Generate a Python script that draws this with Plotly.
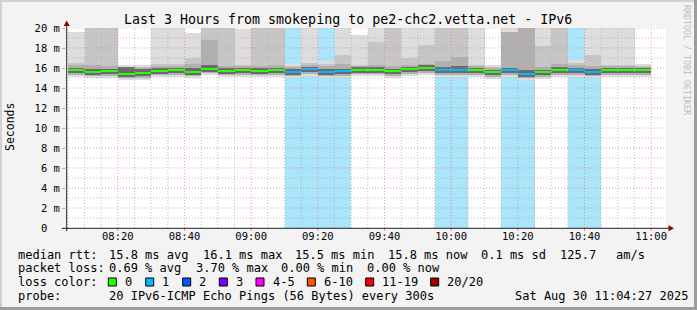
import pandas as pd
import plotly.graph_objects as go

# ---------------- data ----------------
col_start = "2025-08-30 08:05:00"          # first 5-minute column
step_min = 5
n_cols = 35
loss = [0,0,0,0,0,0,0,0,0,0,0,0,0,1,1,1,1,0,0,0,0,0,1,1,0,0,1,1,0,0,1,1,0,0,0]
median = [15.80,15.65,15.70,15.40,15.50,15.72,15.80,15.65,15.95,15.72,15.78,15.72,15.80,15.62,15.88,15.62,15.68,15.85,15.82,15.68,15.87,15.98,15.78,15.78,15.78,15.60,15.78,15.45,15.57,15.80,15.78,15.65,15.80,15.80,15.80]
smoke_max = [19.6,20.5,20.5,16.3,16.3,20.5,20.5,19.5,20.5,20.5,19.9,20.5,20.5,16.4,20.5,16.7,20.5,19.3,20.5,20.5,20.5,20.5,20.5,20.5,20.5,16.3,20.5,20.5,20.5,20.5,16.8,20.5,20.5,20.5,16.4]
smoke_hi2 = [16.5,20.5,20.5,16.1,16.1,16.4,16.4,17.0,20.5,20.5,16.3,20.5,20.5,16.2,16.5,16.4,17.3,16.3,18.6,20.5,17.0,18.3,20.5,20.5,16.3,16.1,19.6,20.5,18.2,20.5,16.5,17.3,16.3,16.3,16.2]
smoke_hi3 = [16.3,16.3,16.2,16.1,16.0,16.2,16.2,16.4,18.8,16.2,16.2,16.2,16.3,16.1,16.3,16.2,16.4,16.2,16.3,16.2,16.3,16.4,16.7,17.1,16.2,16.0,19.6,20.5,16.1,16.4,16.3,16.2,16.2,16.2,16.1]
core_hi = [16.05,15.95,15.95,16.10,15.90,16.00,16.05,16.00,16.30,16.00,16.05,16.00,16.05,15.90,16.15,15.90,15.95,16.10,16.10,15.95,16.15,16.30,16.10,16.20,16.05,15.85,16.05,15.80,15.85,16.10,16.05,15.95,16.05,16.05,16.05]
core_lo = [15.50,15.35,15.40,15.15,15.20,15.42,15.50,15.35,15.65,15.42,15.48,15.42,15.50,15.32,15.58,15.32,15.38,15.55,15.52,15.38,15.57,15.68,15.48,15.48,15.48,15.30,15.48,15.15,15.27,15.50,15.48,15.35,15.50,15.50,15.50]
smoke_lo2 = [15.35,15.20,15.25,15.00,15.05,15.27,15.35,15.20,15.50,15.27,15.33,15.27,15.35,15.17,15.43,15.17,15.23,15.40,15.37,15.23,15.42,15.53,15.33,15.33,15.33,15.15,15.33,15.00,15.12,15.35,15.33,15.20,15.35,15.35,15.35]
smoke_min = [15.15,15.00,15.05,14.80,14.85,15.07,15.15,15.00,15.30,15.07,15.13,15.07,15.15,14.97,15.23,14.97,15.03,15.20,15.17,15.03,15.22,15.33,15.13,15.13,15.13,14.95,15.13,14.80,14.92,15.15,15.13,15.00,15.15,15.15,15.15]

loss_labels = ["0", "1", "2", "3", "4-5", "6-10", "11-19", "20/20"]
loss_colors = ["#26ff00", "#00b8ff", "#0059ff", "#7e00ff", "#ff00ff", "#ff5500", "#ff0000", "#a10000"]
loss_bg = {1: "#aae5fb"}

y_ticks = [0, 2, 4, 6, 8, 10, 12, 14, 16, 18, 20]
x_start, x_end = "2025-08-30 08:04:27", "2025-08-30 11:04:27"

title = "Last 3 Hours from smokeping to pe2-chc2.vetta.net - IPv6"
row1 = [("median rtt:", 16), ("15.8 ms avg", 107), ("16.1 ms max", 201), ("15.5 ms min", 293),
        ("15.8 ms now", 386), ("0.1 ms sd", 479), ("125.7", 558), ("am/s", 614)]
row2 = [("packet loss:", 16), ("0.69 % avg", 107), ("3.70 % max", 194), ("0.00 % min", 279),
        ("0.00 % now", 365)]
row4 = [("probe:", 16), ("20 IPv6-ICMP Echo Pings (56 Bytes) every 300s", 107),
        ("Sat Aug 30 11:04:27 2025", 513)]

# ---------------- layout helpers ----------------
W, H = 697, 310
L, R, T, B = 66, 31, 28, 82
PW, PH = W - L - R, H - T - B
def px(x): return (x - L) / PW
def py(y): return (H - B - y) / PH

MONO = "DejaVu Sans Mono"
starts = pd.date_range(col_start, periods=n_cols, freq=f"{step_min}min")
centers = starts + pd.Timedelta(minutes=step_min / 2)
width_ms = step_min * 60 * 1000

fig = go.Figure()

def band(lo, hi, color):
    fig.add_trace(go.Bar(x=centers, base=lo, y=[h - l for l, h in zip(lo, hi)],
                         width=width_ms, marker=dict(color=color, line=dict(width=0)),
                         hoverinfo="skip", showlegend=False))

# loss background
bg_h = [20 if l > 0 else 0 for l in loss]
fig.add_trace(go.Bar(x=centers, base=[0]*n_cols, y=bg_h, width=width_ms,
                     marker=dict(color=[loss_bg.get(l, "white") for l in loss], line=dict(width=0)),
                     hoverinfo="skip", showlegend=False))
band(smoke_min, smoke_max, "#dddddd")
band(smoke_lo2, smoke_hi2, "#c6c6c6")
band(smoke_lo2, smoke_hi3, "#b0b0b0")
band(core_lo, core_hi, "#6a6a6a")
# median line coloured by loss
fig.add_trace(go.Bar(x=centers, base=[m - 0.1 for m in median], y=[0.2]*n_cols, width=width_ms,
                     marker=dict(color=[loss_colors[l] for l in loss], line=dict(width=0)),
                     hoverinfo="skip", showlegend=False))

shapes = []
# grid (drawn above data like rrdtool)
t = pd.Timestamp("2025-08-30 08:05")
while t <= pd.Timestamp("2025-08-30 11:00"):
    major = (t.minute % 20 == 0)
    shapes.append(dict(type="line", xref="x", yref="y", x0=t, x1=t, y0=0, y1=20, layer="above",
                       line=dict(color="rgba(235,120,120,0.75)" if major else "rgba(175,175,175,0.8)",
                                 width=1, dash="1px,2px")))
    if major:
        shapes.append(dict(type="line", xref="x", yref="paper", x0=t, x1=t, y0=py(228.3), y1=py(231),
                           layer="above", line=dict(color="rgba(235,120,120,0.9)", width=1)))
    t += pd.Timedelta(minutes=5)
for v in range(1, 21):
    major = (v % 2 == 0)
    shapes.append(dict(type="line", xref="x", yref="y", x0=x_start, x1=x_end, y0=v, y1=v, layer="above",
                       line=dict(color="rgba(235,120,120,0.75)" if major else "rgba(175,175,175,0.8)",
                                 width=1, dash="1px,2px")))
# axes lines and arrows
AX = "#222222"
ARR = "#8b0000"
shapes.append(dict(type="line", xref="paper", yref="paper", x0=px(66.7), x1=px(66.7), y0=py(231), y1=py(24),
                   line=dict(color=AX, width=1), layer="above"))
shapes.append(dict(type="line", xref="paper", yref="paper", x0=px(62), x1=px(670), y0=py(228.3), y1=py(228.3),
                   line=dict(color=AX, width=1), layer="above"))
shapes.append(dict(type="path", xref="paper", yref="paper", layer="above",
                   path=f"M {px(66.7)},{py(20.5)} L {px(63.7)},{py(26)} L {px(69.7)},{py(26)} Z",
                   fillcolor=ARR, line=dict(width=0)))
shapes.append(dict(type="path", xref="paper", yref="paper", layer="above",
                   path=f"M {px(674)},{py(228.3)} L {px(668.5)},{py(225.3)} L {px(668.5)},{py(231.3)} Z",
                   fillcolor=ARR, line=dict(width=0)))
# frame of the image
shapes += [
    dict(type="rect", xref="paper", yref="paper", x0=px(0), x1=px(697), y0=py(0), y1=py(2),
         fillcolor="#d0d0d0", line=dict(width=0), layer="above"),
    dict(type="rect", xref="paper", yref="paper", x0=px(0), x1=px(2), y0=py(0), y1=py(310),
         fillcolor="#d0d0d0", line=dict(width=0), layer="above"),
    dict(type="rect", xref="paper", yref="paper", x0=px(694), x1=px(697), y0=py(0), y1=py(310),
         fillcolor="#9c9c9c", line=dict(width=0), layer="above"),
    dict(type="rect", xref="paper", yref="paper", x0=px(0), x1=px(697), y0=py(307), y1=py(310),
         fillcolor="#9c9c9c", line=dict(width=0), layer="above"),
]

annotations = []
def text(s, x, y, size=12, anchor="left", color="black", angle=0):
    annotations.append(dict(text=s.replace(" ", "\u00a0"), x=px(x), y=py(y), xref="paper", yref="paper",
                            xanchor=anchor, yanchor="middle", showarrow=False, textangle=angle,
                            font=dict(family=MONO, size=size, color=color)))

text(title, 348, 20, size=13.3, anchor="center")
text("Seconds", 10, 127, size=11.5, anchor="center", angle=-90)
text("RRDTOOL / TOBI OETIKER", 687, 60, size=8.3, anchor="center", color="#bcbcbc", angle=90)
for s, x in row1:
    text(s, x, 254.5)
for s, x in row2:
    text(s, x, 268)
text("loss color:", 16, 282)
sq_x = [108.3, 145.7, 182.7, 219.3, 256, 307.3, 365.7, 430.7]
for lab, col, x in zip(loss_labels, loss_colors, sq_x):
    shapes.append(dict(type="rect", xref="paper", yref="paper", x0=px(x), x1=px(x + 8),
                       y0=py(278), y1=py(286), fillcolor=col, line=dict(color="black", width=1)))
    text(lab, x + 14.5, 282)
for s, x in row4:
    text(s, x, 295.7)

fig.update_layout(
    width=W, height=H, margin=dict(l=L, r=R, t=T, b=B, autoexpand=False),
    paper_bgcolor="#f3f3f3", plot_bgcolor="white", barmode="overlay", bargap=0,
    showlegend=False, shapes=shapes, annotations=annotations,
    xaxis=dict(type="date", range=[x_start, x_end], showgrid=False, zeroline=False, showline=False,
               tick0="2025-08-30 08:00", dtick=20 * 60 * 1000, tickformat="%H:%M",
               ticks="",
               tickfont=dict(family=MONO, size=10.5, color="black"), fixedrange=True),
    yaxis=dict(range=[0, 20], showgrid=False, zeroline=False, showline=False,
               tickvals=y_ticks,
               ticktext=[("0  " if v == 0 else f"{v} m").replace(" ", "\u00a0") for v in y_ticks],
               ticks="outside", ticklen=3, tickcolor="rgba(235,120,120,0.8)",
               tickfont=dict(family=MONO, size=10.5, color="black"), fixedrange=True),
)

fig.write_html("out.html")
